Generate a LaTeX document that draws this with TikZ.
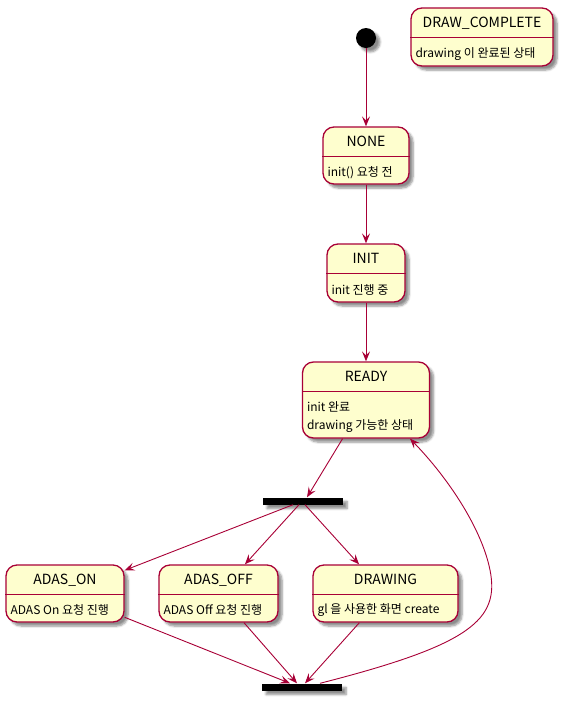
\documentclass[tikz,border=0pt]{standalone}
\usepackage{fontspec}
\setmainfont{Noto Sans CJK KR}
\usetikzlibrary{arrows.meta,shadows.blur}
\definecolor{umlred}{HTML}{A80036}
\definecolor{umlfill}{HTML}{FEFECE}
\tikzset{
  shad/.style={blur shadow={shadow xshift=4pt,shadow yshift=-4pt,shadow blur steps=6,shadow opacity=45}},
  st/.style={draw=umlred,fill=umlfill,line width=1.3pt,rounded corners=11pt,inner sep=0pt,shad},
  sttitle/.style={font=\fontsize{14}{16}\selectfont,inner sep=0pt,text height=10pt,text depth=0pt,minimum height=30pt,anchor=north},
  stbody/.style={font=\fontsize{12}{18}\selectfont,inner sep=0pt,align=left,anchor=west},
  bar/.style={fill=black,inner sep=0pt,minimum width=80pt,minimum height=7pt,shad},
  arr/.style={draw=umlred,line width=0.9pt,-{Stealth[length=10pt,width=8pt,inset=4pt]}},
}
\begin{document}
\begin{tikzpicture}[x=1pt,y=-1pt]
            \useasboundingbox (0,0) rectangle (563,702);
            % states
            \foreach \n/\x/\y/\w/\h/\t/\b in {
              done/482/37/142/58/DRAW\_COMPLETE/{drawing 이 완료된 상태},
              none/366/155.5/86/57/NONE/{init() 요청 전},
              init/366/273/78/58/INIT/{init 진행 중},
              ready/366/400/127/76/READY/{init 완료\\drawing 가능한 상태},
              adason/65/593.5/118/57/ADAS\_ON/{ADAS On 요청 진행},
              adasoff/218.5/593.5/119/57/ADAS\_OFF/{ADAS Off 요청 진행},
              drawing/385.5/593.5/145/57/DRAWING/{gl 을 사용한 화면 create}}
            {
              \node[st,minimum width=\w pt,minimum height=\h pt] (\n) at (\x,\y) {};
              \draw[umlred,line width=1.1pt] ([yshift=-30pt]\n.north west) -- ([yshift=-30pt]\n.north east);
              \node[sttitle] (\n-t) at (\n.north) {\t};
              \node[stbody] (\n-b) at ([xshift=5pt,yshift={-(35+\h)/2*1pt}]\n.north west) {\b};
            }
            \node[circle,fill=black,minimum size=20pt,inner sep=0pt,shad] (start) at (366,38) {};
            \node[bar] (fork) at (303,501) {};
            \node[bar] (join) at (302,687) {};
            % transitions
            \draw[arr] (start) -- (none);
            \draw[arr] (none) -- (init);
            \draw[arr] (init) -- (ready);
            \draw[arr] (ready) -- ([xshift=4pt]fork.north);
            \foreach \s/\d in {adason/-10,adasoff/-4,drawing/2}
            \draw[arr] ([xshift=\d pt]fork.south) -- (\s);
            \foreach \s/\d in {adason/-12,adasoff/-5,drawing/3}
            \draw[arr] (\s) -- ([xshift=\d pt]join.north);
            \draw[arr] ([xshift=18pt]join.north) .. controls (470,645) and (500,620) .. (490,570)
            .. controls (482,530) and (450,480) .. ([xshift=44pt]ready.south);
\end{tikzpicture}
\end{document}
